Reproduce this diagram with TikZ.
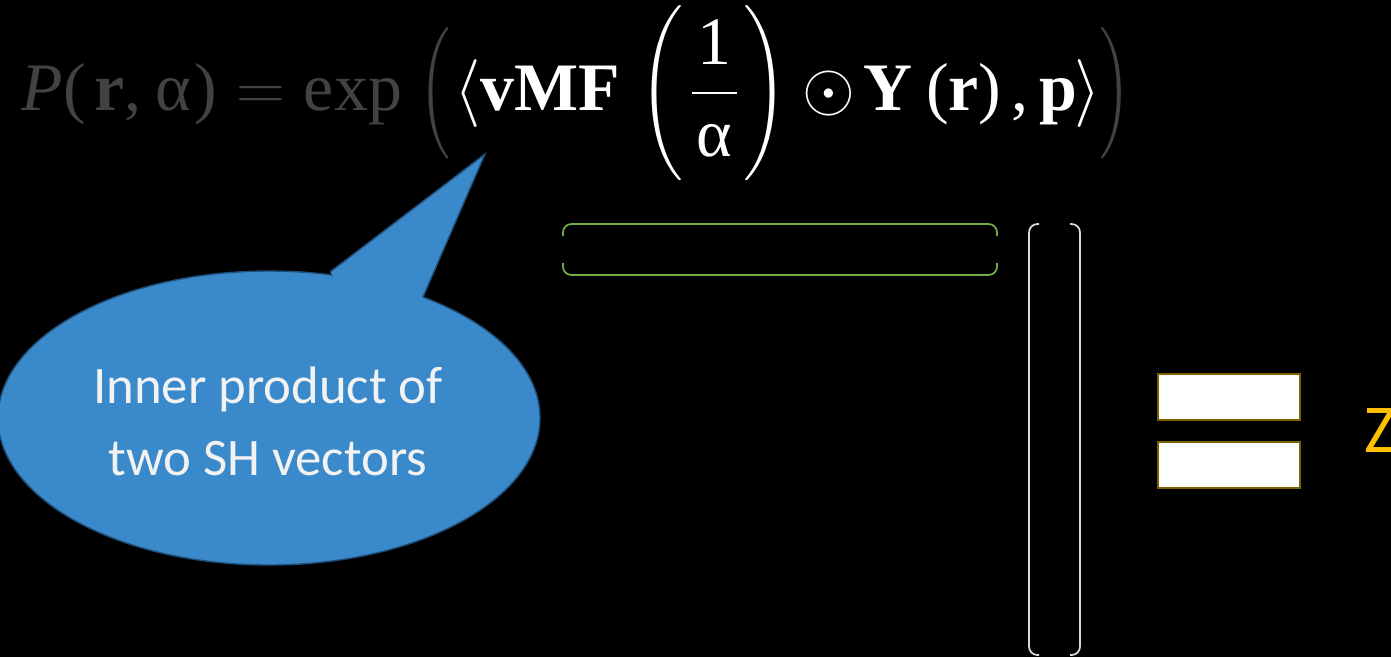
\RequirePackage{fix-cm}
\documentclass[tikz,border=0pt]{standalone}
\usepackage{exscale}
\usepackage{fontspec}
\usepackage{graphicx}
\newfontfamily\calibri{Carlito}
\newfontfamily\timesfont{Liberation Serif}
\setlength{\nulldelimiterspace}{0pt}
\newcommand{\tm}[1]{\mbox{\timesfont #1}}
\newcommand{\tmb}[1]{\mbox{\timesfont\bfseries #1}}
\newcommand{\tmi}[1]{\mbox{\timesfont\itshape #1}}
\newcommand{\tmw}[1]{\makebox[12.8pt]{\timesfont #1}}
% sized parentheses: height, horizontal squeeze
\newcommand{\sizedopen}[2]{\mathopen{\scalebox{#2}[1]{$\left(\vcenter{\hbox{\rule{0pt}{#1}}}\right.$}}}
\newcommand{\sizedclose}[2]{\mathclose{\scalebox{#2}[1]{$\left.\vcenter{\hbox{\rule{0pt}{#1}}}\right)$}}}
\begin{document}
\begin{tikzpicture}[x=0.01cm, y=-0.01cm,
    vecrow/.style={draw=greenColour, line width=0.5pt, rounded corners=2.4pt},
    veccol/.style={draw=bracketColour, line width=0.5pt, rounded corners=2.4pt},
    cellbox/.style={fill=white, draw=oliveColour, line width=0.7pt},
    callout/.style={fill=calloutFill, draw=calloutBorder, line width=0.4pt},
  ]
    \definecolor{formulaGray}{HTML}{424242}
    \definecolor{calloutFill}{HTML}{3A89CA}
    \definecolor{calloutBorder}{HTML}{1F4E79}
    \definecolor{greenColour}{HTML}{70AD47}
    \definecolor{bracketColour}{HTML}{D9D9D9}
    \definecolor{oliveColour}{HTML}{7F6000}
    \definecolor{zColour}{HTML}{FFC000}

    % Canvas
    \useasboundingbox (0,0) rectangle (1391,657);
    \clip (0,0) rectangle (1391,657);
    \fill[black] (0,0) rectangle (1391,657);

    % Formula
    \node[inner sep=0pt, anchor=base west, font=\fontsize{19.3}{23}\selectfont] (formula) at (21,110)
        {$\displaystyle
        \color{formulaGray}\tmi{P}\tm{(}\kern2.5pt\tmb{r}\tm{,}\kern4pt\tm{α}\kern1pt\tm{)} = \tm{exp}\kern5pt\sizedopen{35pt}{0.72}
        \color{white}\kern1pt\langle\tmb{vMF}\kern5.6pt\sizedopen{46pt}{0.82}\kern2.2pt\frac{\tmw{1}}{\tmw{α}}\kern1.9pt\sizedclose{46pt}{0.82}
        \kern0pt\odot\kern-2pt\tmb{Y}\kern3.9pt\tm{(}\tmb{r}\tm{)}\kern3pt\tm{,}\kern3pt\tmb{p}\kern-0.7pt\rangle
        \color{formulaGray}\kern-0.4pt\sizedclose{35pt}{0.72}$};

    % Callout
    \coordinate (tip) at (485,154);
    \coordinate (base1) at (330,272);
    \coordinate (base2) at (423,297);
    \filldraw[callout] (269,418) ellipse[x radius=271, y radius=147];
    \fill[calloutFill] (base1) -- (tip) -- (base2) -- (380,330) -- cycle;
    \draw[draw=calloutBorder, line width=0.4pt, line join=miter] (base1) -- (tip) -- (base2);
    \node[text=white!95!black, align=center, font=\calibri\fontsize{15}{20.5}\selectfont] (calloutText) at (268,421)
        {Inner product of\\two SH vectors};

    % Row vector
    \draw[vecrow] (563,236) -- (563,224) -- (997,224) -- (997,236);
    \draw[vecrow] (563,263) -- (563,275) -- (997,275) -- (997,263);

    % Column vector
    \draw[veccol] (1039,224) -- (1029,224) -- (1029,655) -- (1039,655);
    \draw[veccol] (1070,224) -- (1080,224) -- (1080,655) -- (1070,655);

    % Equals sign
    \node[cellbox, minimum width=142*0.01cm, minimum height=46*0.01cm, inner sep=0pt] (barTop) at (1229,397) {};
    \node[cellbox, minimum width=142*0.01cm, minimum height=46*0.01cm, inner sep=0pt] (barBottom) at (1229,465) {};

    % Result
    \node[text=zColour, inner sep=0pt, anchor=base west, font=\calibri\fontsize{19.5}{23}\selectfont] (zLabel) at (1364,452) {Z};
\end{tikzpicture}
\end{document}
